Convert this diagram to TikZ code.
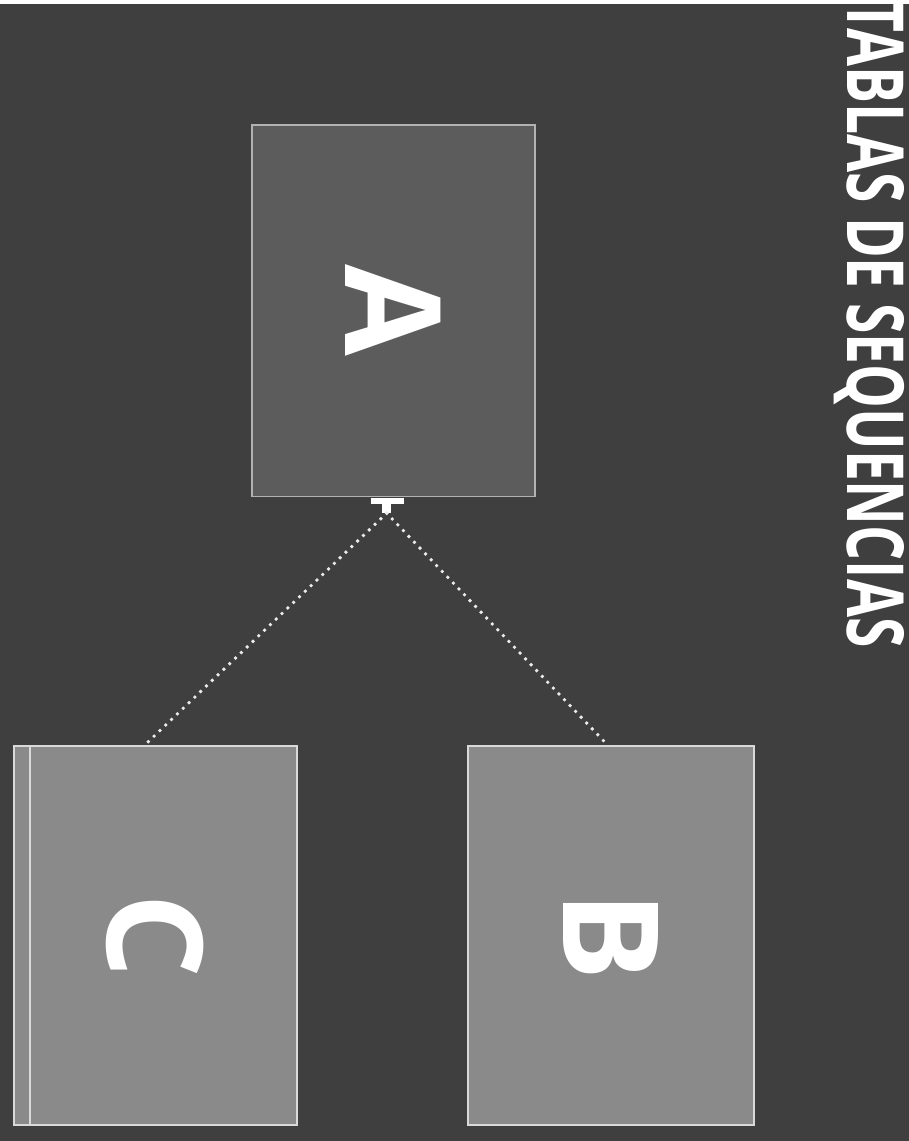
\documentclass[tikz,border=0pt]{standalone}
\usepackage{fontspec}
\setmainfont{Open Sans}
\usetikzlibrary{positioning}
\definecolor{slate}{HTML}{3F3F3F}
\definecolor{panel}{HTML}{5C5C5C}
\definecolor{sheet}{HTML}{8A8A8A}

\begin{document}
\begin{tikzpicture}[x=0.02cm,y=-0.02cm,
  tabla/.style={draw=white!85!black,line width=1.2pt,inner sep=0pt,text=white,
    font=\bfseries\fontsize{76}{76}\selectfont},
  enlace/.style={white!92!black,line width=2.2pt,line cap=round,dash pattern=on 0pt off 4.6pt}]
  \fill[slate] (0,0) rectangle (912,1141);
  % titulo
  \node[text=white,inner sep=0pt,font=\bfseries\fontsize{45}{45}\selectfont] (title) at (872,321)
    {\rotatebox{-90}{\scalebox{0.7}[1]{TABLAS DE SEQUENCIAS}}};
  % tablas
  \node[tabla,fill=panel,draw=white!70!black,line width=0.8pt,minimum width=5.68cm,minimum height=7.46cm] (boxA) at (395,308) {\rotatebox{-90}{A}};
  \node[tabla,fill=sheet,minimum width=5.68cm,minimum height=7.6cm] (boxC) at (156,935) {\rotatebox{-90}{C}};
  \node[tabla,fill=sheet,minimum width=5.74cm,minimum height=7.6cm] (boxB) at (613,935) {\rotatebox{-90}{B}};
  \draw[white!85!black,line width=0.8pt] ([xshift=0.34cm]boxC.north west) -- ([xshift=0.34cm]boxC.south west);
  % union
  \coordinate (jn) at (388,511);
  \draw[white,line width=3.4pt] ([xshift=-0.32cm,yshift=0.24cm]jn) -- ([xshift=0.34cm,yshift=0.24cm]jn);
  \draw[white,line width=5pt] ([yshift=0.26cm]jn) -- (jn);
  \draw[enlace] (jn) -- ([xshift=-0.22cm]boxC.north);
  \draw[enlace] (jn) -- ([xshift=-0.06cm]boxB.north);
\end{tikzpicture}
\end{document}
